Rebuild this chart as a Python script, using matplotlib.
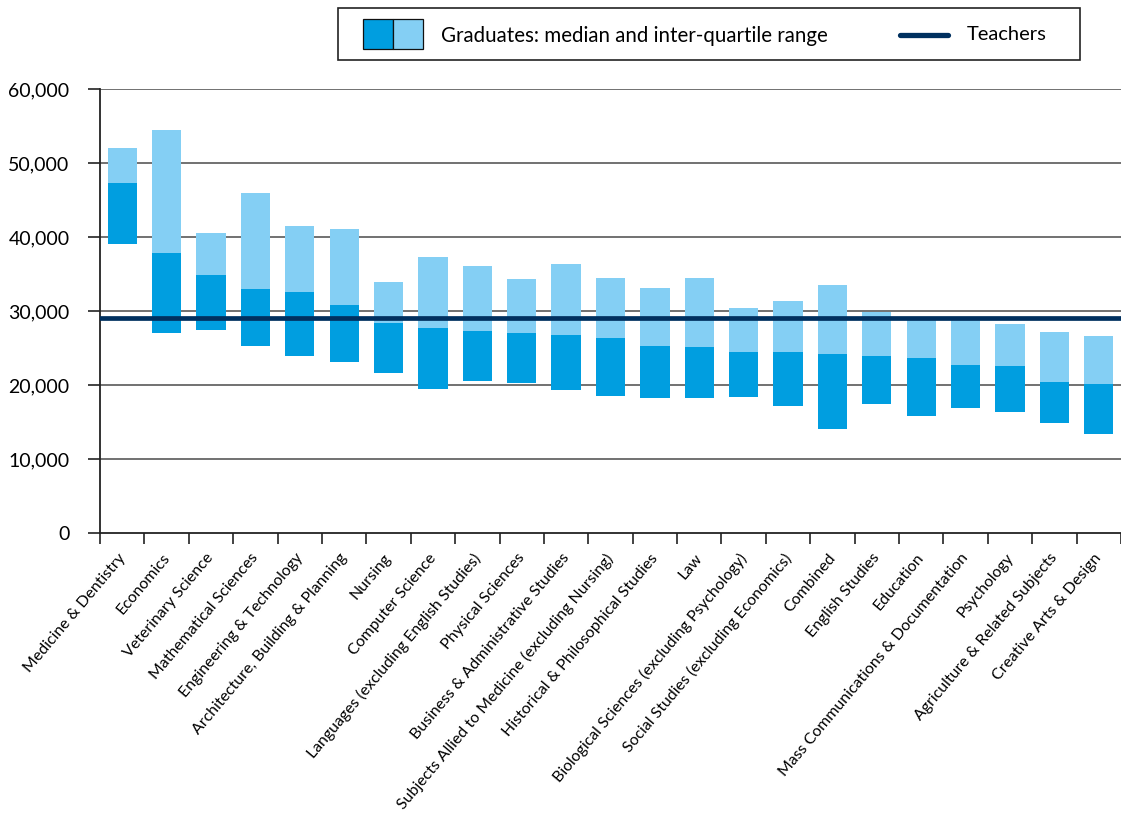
import matplotlib
matplotlib.use("Agg")
import matplotlib.pyplot as plt
from matplotlib.patches import Rectangle
from matplotlib.lines import Line2D
from matplotlib.transforms import ScaledTranslation
import numpy as np

plt.rcParams['font.family'] = ['Lato', 'DejaVu Sans']

categories = [
    "Medicine & Dentistry", "Economics", "Veterinary Science", "Mathematical Sciences",
    "Engineering & Technology", "Architecture, Building & Planning", "Nursing",
    "Computer Science", "Languages (excluding English Studies)", "Physical Sciences",
    "Business & Administrative Studies", "Subjects Allied to Medicine (excluding Nursing)",
    "Historical & Philosophical Studies", "Law", "Biological Sciences (excluding Psychology)",
    "Social Studies (excluding Economics)", "Combined", "English Studies", "Education",
    "Mass Communications & Documentation", "Psychology", "Agriculture & Related Subjects",
    "Creative Arts & Design",
]
q1 = [39100, 27100, 27500, 25300, 24000, 23150, 21700, 19500, 20600, 20300, 19400,
      18550, 18300, 18300, 18400, 17200, 14100, 17500, 15850, 16950, 16400, 14900, 13400]
median = [47350, 37900, 34900, 33000, 32600, 30850, 28400, 27750, 27350, 27100, 26800,
          26400, 25300, 25200, 24500, 24500, 24250, 23950, 23700, 22750, 22600, 20450, 20200]
q3 = [52050, 54500, 40600, 46000, 41550, 41150, 33950, 37350, 36150, 34350, 36400,
      34500, 33150, 34500, 30450, 31400, 33550, 29900, 29200, 29100, 28300, 27200, 26650]
teachers = 29050
yticks = [0, 10000, 20000, 30000, 40000, 50000, 60000]
ytick_labels = ["0", "10,000", "20,000", "30,000", "40,000", "50,000", "60,000"]

DARK = "#009EE0"
LIGHT = "#84CFF4"
NAVY = "#00305F"

W, H = 1121, 816
fig = plt.figure(figsize=(W / 100, H / 100), dpi=100)

def fx(px):
    return px / W

def fy(py):
    return 1 - py / H

ax = fig.add_axes([fx(100), fy(533), 1 - fx(100), fy(89.3) - fy(533)])

x = np.arange(len(categories))
q1a, meda, q3a = np.array(q1), np.array(median), np.array(q3)
ax.bar(x, meda - q1a, bottom=q1a, width=0.66, color=DARK, zorder=2)
ax.bar(x, q3a - meda, bottom=meda, width=0.66, color=LIGHT, zorder=2)
ax.axhline(teachers, color=NAVY, lw=3.4, zorder=3)

ax.set_xlim(-0.5, len(categories) - 0.5)
ax.set_ylim(0, 60000)
ax.set_yticks(yticks)
ax.set_yticklabels(ytick_labels, fontsize=14)
ax.tick_params(axis='y', length=9, width=1.2, pad=13, color='#222222')
for yv in yticks[1:]:
    ax.axhline(yv, color='#666666', lw=1.3, zorder=1)

ax.set_xticks(x)
ax.set_xticklabels(categories, rotation=50, ha='right', va='top',
                   rotation_mode='anchor', fontsize=11.4)
ax.tick_params(axis='x', which='major', length=0, pad=13)
offset = ScaledTranslation(-5 / 100, 0, fig.dpi_scale_trans)
for lab in ax.get_xticklabels():
    lab.set_transform(lab.get_transform() + offset)
ax.set_xticks(np.arange(-0.5, len(categories), 1.0), minor=True)
ax.tick_params(axis='x', which='minor', length=8, width=1.2, color='#222222')

for s in ['top', 'right']:
    ax.spines[s].set_visible(False)
for s in ['left', 'bottom']:
    ax.spines[s].set_linewidth(1.3)
    ax.spines[s].set_color('#222222')

# Legend (manual)
fig.patches.append(Rectangle((fx(338), fy(60)), fx(1080) - fx(338), fy(8) - fy(60),
                             transform=fig.transFigure, fill=False, edgecolor='#222222',
                             lw=1.2))
fig.patches.append(Rectangle((fx(363), fy(49)), fx(30), fy(19) - fy(49),
                             transform=fig.transFigure, facecolor=DARK, edgecolor='#111111',
                             lw=0.9))
fig.patches.append(Rectangle((fx(393), fy(49)), fx(30), fy(19) - fy(49),
                             transform=fig.transFigure, facecolor=LIGHT, edgecolor='#111111',
                             lw=0.9))
fig.text(fx(441), fy(36), "Graduates: median and inter-quartile range", fontsize=14.8,
         va='center', ha='left')
fig.lines.append(Line2D([fx(900), fx(948)], [fy(35), fy(35)], transform=fig.transFigure,
                        color=NAVY, lw=3.8, solid_capstyle='round'))
fig.text(fx(967), fy(35), "Teachers", fontsize=14.5, va='center', ha='left')

fig.savefig("out.png", dpi=100)
